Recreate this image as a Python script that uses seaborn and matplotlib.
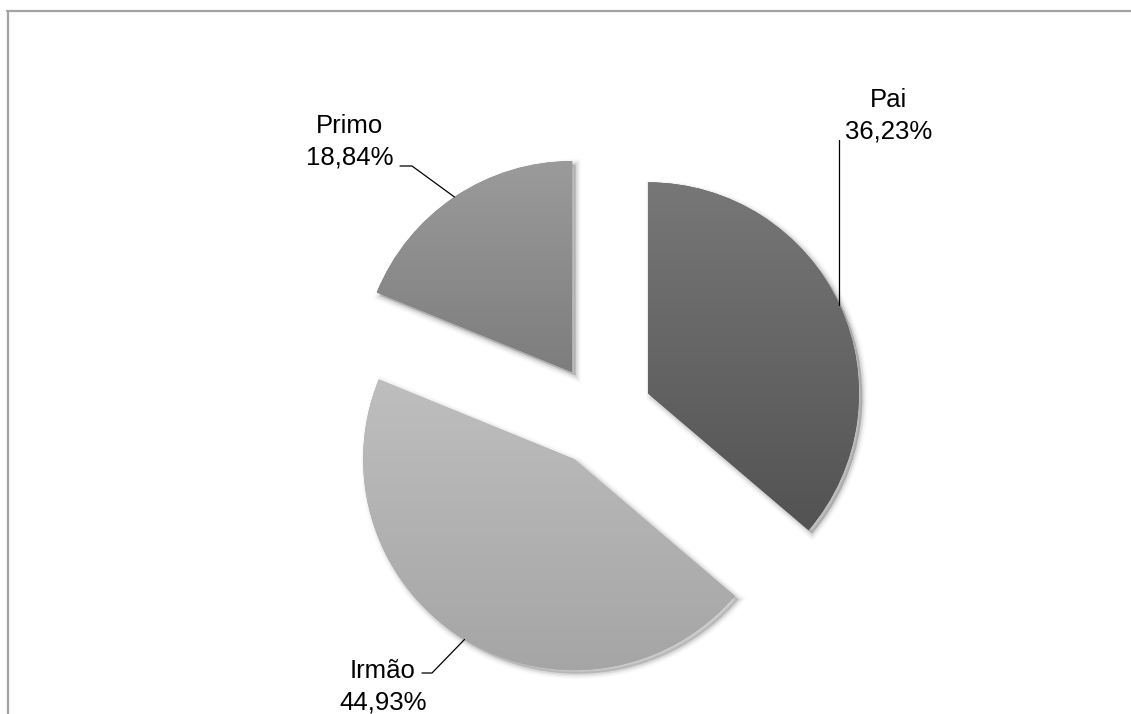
import numpy as np
import matplotlib
matplotlib.use("Agg")
import matplotlib.pyplot as plt
import matplotlib.patheffects as pe
from matplotlib.lines import Line2D
from matplotlib.colors import LinearSegmentedColormap
import seaborn as sns

# Parentesco
categories = ["Pai", "Irmão", "Primo"]
shares = [36.23, 44.93, 18.84]
labels = ["Pai\n36,23%", "Irmão\n44,93%", "Primo\n18,84%"]

# top / bottom shade of each slice's vertical gradient
shade_top = ["#777777", "#bebebe", "#9b9b9b"]
shade_bottom = ["#535353", "#a5a5a5", "#7d7d7d"]

sns.set_theme(style="white")
plt.rcParams["font.family"] = ["Liberation Sans", "DejaVu Sans"]

W, H = 1131, 714
fig = plt.figure(figsize=(W / 100, H / 100), dpi=100)
ax = fig.add_axes([0, 0, 1, 1])

radius = 211
# pie() offsets exploded wedges in data units, so scale by the radius
explode_frac = 0.245

# soft drop shadow, falling mostly to the lower right
shadow = [pe.SimplePatchShadow(offset=(2.5, -2.5), shadow_rgbFace="black", alpha=0.12)]
for lw, a in [(8, 0.02), (6, 0.03), (4, 0.045), (2.5, 0.06)]:
    shadow.append(pe.Stroke(offset=(2.5, -2.5), linewidth=lw, foreground="black", alpha=a))
shadow.append(pe.Normal())

wedges, _ = ax.pie(
    shares,
    startangle=90,
    counterclock=False,
    explode=[explode_frac * radius] * len(shares),
    radius=radius,
    center=(601, 299),
    colors=shade_bottom,
    wedgeprops=dict(linewidth=0),
    frame=True,
)

for w, c0, c1 in zip(wedges, shade_top, shade_bottom):
    w.set_path_effects(shadow)
    verts = w.get_path().vertices
    x0, x1 = verts[:, 0].min(), verts[:, 0].max()
    y0, y1 = verts[:, 1].min(), verts[:, 1].max()
    cmap = LinearSegmentedColormap.from_list("g", [c1, c0])
    grad = np.linspace(0, 1, 256).reshape(-1, 1)
    im = ax.imshow(grad, cmap=cmap, origin="lower", extent=(x0, x1, y0, y1),
                   aspect="auto", zorder=w.get_zorder() + 0.1, interpolation="bilinear")
    im.set_clip_path(w)

ax.set_xlim(0, W)
ax.set_ylim(0, H)
ax.set_aspect("equal")
ax.axis("off")


def arc_point(w):
    mid = np.deg2rad((w.theta1 + w.theta2) / 2)
    cx, cy = w.center
    return cx + w.r * np.cos(mid), cy + w.r * np.sin(mid)


txt = dict(fontsize=18.5, color="black", ha="center", va="center",
           multialignment="center", linespacing=1.4)
lead = dict(color="black", lw=0.9, zorder=5)

# Pai: vertical leader up to the label
px, py = arc_point(wedges[0])
ax.plot([px, px], [py, H - 140], **lead)
ax.text(889, H - 116, labels[0], **txt)

# Irmão: leader down-left to the label
ix, iy = arc_point(wedges[1])
ax.plot([ix, 432, 422], [iy, H - 673, H - 673], **lead)
ax.text(383, H - 687, labels[1], **txt)

# Primo: leader up-left to the label
qx, qy = arc_point(wedges[2])
ax.plot([qx, 412, 400], [qy, H - 166, H - 166], **lead)
ax.text(350, H - 142, labels[2], **txt)

# chart area border
border = "#a3a3a3"
fig.add_artist(Line2D([7 / W, 1.0], [1 - 11 / H, 1 - 11 / H], color=border, lw=1.6,
                      transform=fig.transFigure))
fig.add_artist(Line2D([8 / W, 8 / W], [1 - 11 / H, 0.0], color=border, lw=1.6,
                      transform=fig.transFigure))

fig.savefig("out.png", dpi=100, facecolor="white")
